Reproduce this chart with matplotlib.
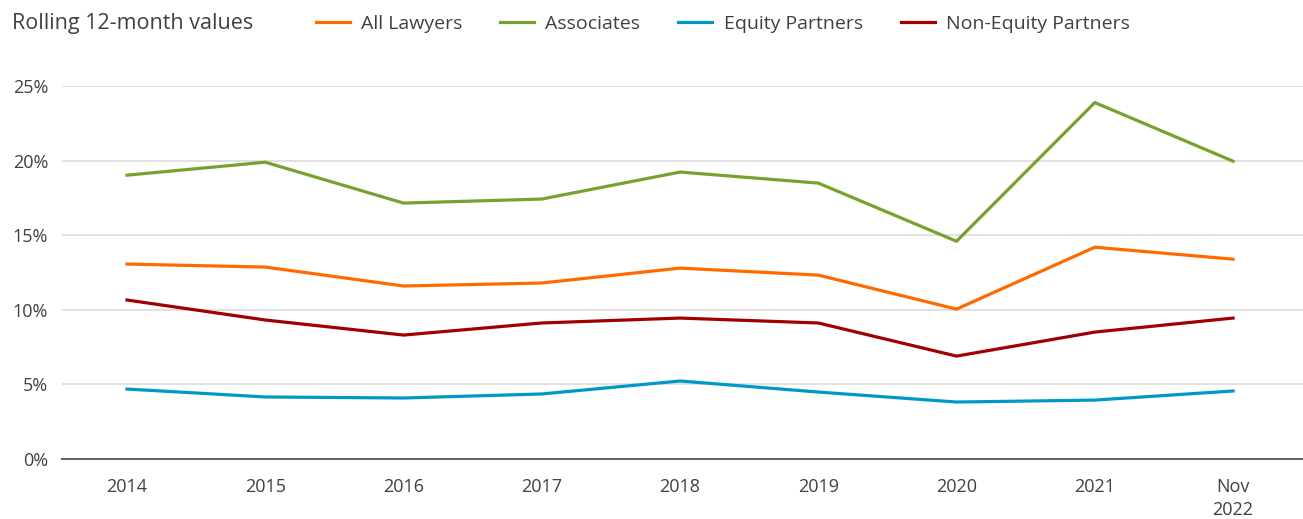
import matplotlib.pyplot as plt
from matplotlib.ticker import FuncFormatter

plt.rcParams['font.family'] = ['Open Sans', 'DejaVu Sans']

years = ['2014', '2015', '2016', '2017', '2018', '2019', '2020', '2021', 'Nov\n2022']
all_lawyers = [13.07, 12.87, 11.6, 11.8, 12.8, 12.33, 10.05, 14.2, 13.4]
associates = [19.03, 19.9, 17.16, 17.43, 19.24, 18.5, 14.6, 23.9, 19.97]
equity_partners = [4.69, 4.16, 4.09, 4.36, 5.23, 4.49, 3.82, 3.95, 4.56]
non_equity_partners = [10.66, 9.32, 8.31, 9.12, 9.45, 9.12, 6.9, 8.51, 9.45]

fig = plt.figure(figsize=(13.03, 5.19), dpi=100)
ax = fig.add_axes([0.0476, 0.1156, 0.9524, 0.7184])

x = range(len(years))
ax.plot(x, all_lawyers, color='#FF6A00', lw=2.3, label='All Lawyers')
ax.plot(x, associates, color='#78A22F', lw=2.3, label='Associates')
ax.plot(x, equity_partners, color='#0099C6', lw=2.3, label='Equity Partners')
ax.plot(x, non_equity_partners, color='#A00000', lw=2.3, label='Non-Equity Partners')

ax.set_xlim(-0.47, 8.506)
ax.set_ylim(0, 25)
ax.set_yticks([0, 5, 10, 15, 20, 25])
ax.yaxis.set_major_formatter(FuncFormatter(lambda v, p: f'{v:.0f}%'))
ax.set_xticks(list(x))
ax.set_xticklabels(years)
ax.grid(axis='y', color='#DCDCDC', lw=1.2)
ax.set_axisbelow(True)
for s in ['top', 'right', 'left']:
    ax.spines[s].set_visible(False)
ax.spines['bottom'].set_color('#666666')
ax.spines['bottom'].set_linewidth(1.5)
ax.tick_params(axis='both', length=0, labelsize=13, labelcolor='#404040')
ax.tick_params(axis='x', pad=14)
ax.tick_params(axis='y', pad=10)
for lbl in ax.get_xticklabels():
    lbl.set_verticalalignment('top')
    lbl.set_linespacing(1.3)

fig.text(0.009, 0.954, 'Rolling 12-month values', fontsize=15.5, color='#404040', va='center')
fig.legend(loc='center left', bbox_to_anchor=(0.2425, 0.954), ncol=4, frameon=False,
           fontsize=14, handlelength=1.75, handletextpad=0.57, columnspacing=1.95,
           borderaxespad=0, borderpad=0, labelcolor='#404040')

fig.savefig('out.png', dpi=100)
